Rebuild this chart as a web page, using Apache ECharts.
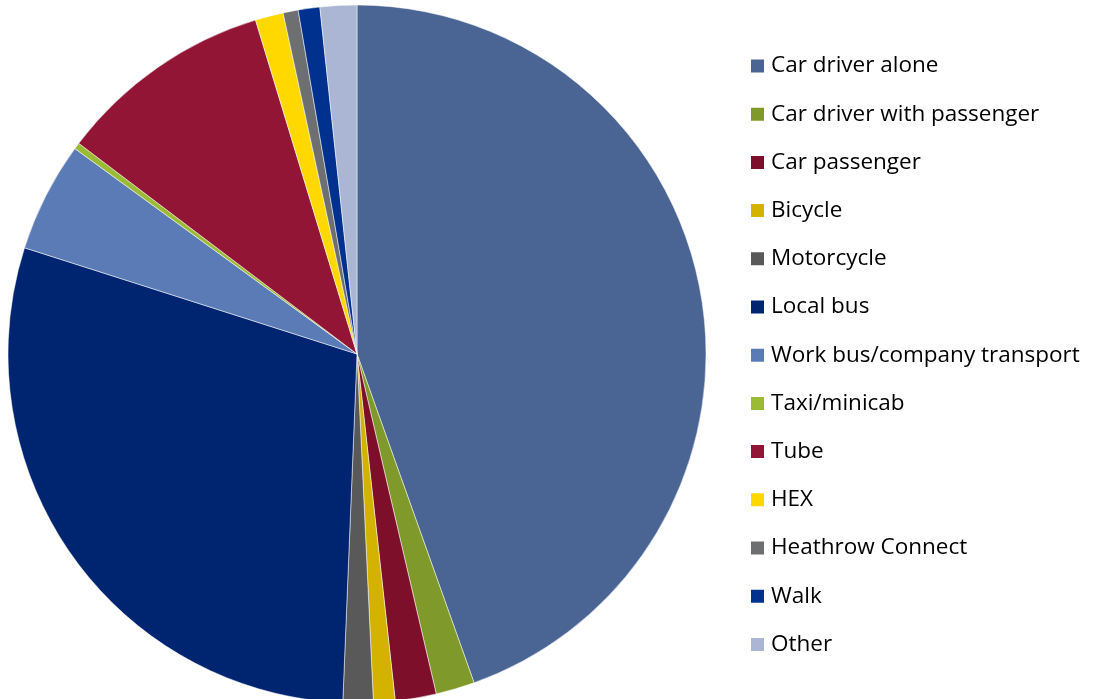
<!DOCTYPE html>
<html>
<head>
<meta charset="utf-8">
<script src="https://cdn.jsdelivr.net/npm/echarts@6/dist/echarts.min.js"></script>
<style>
html,body{margin:0;padding:0;background:#fff;}
#chart{width:1100px;height:699px;}
</style>
</head>
<body>
<div id="chart"></div>
<script>
var categories = ["Car driver alone","Car driver with passenger","Car passenger","Bicycle","Motorcycle","Local bus","Work bus/company transport","Taxi/minicab","Tube","HEX","Heathrow Connect","Walk","Other"];
var shares = [44.6, 1.8, 1.9, 1.0, 1.4, 29.3, 5.1, 0.3, 10.0, 1.3, 0.7, 1.0, 1.7];
var colors = ["#4A6594","#7F9A2A","#7D0F2B","#D4B300","#595959","#002570","#5B7BB6","#9CBB34","#931535","#FFD800","#6D6F71","#00318F","#AAB6D3"];

var chart = echarts.init(document.getElementById('chart'));
chart.setOption({
  animation: false,
  color: colors,
  legend: {
    orient: 'vertical',
    left: 749,
    top: 54,
    padding: 0,
    itemWidth: 15,
    itemHeight: 15,
    itemGap: 24.2,
    icon: 'rect',
    textStyle: { fontFamily: 'Open Sans', fontSize: 22.5, color: '#000', lineHeight: 24, height: 24, padding: [0,0,0,1] },
    data: categories
  },
  series: [{
    type: 'pie',
    center: [357, 354],
    radius: [0, 349],
    startAngle: 90,
    clockwise: true,
    label: { show: false },
    labelLine: { show: false },
    itemStyle: { borderColor: '#fff', borderWidth: 0.5 },
    emphasis: { disabled: true },
    data: categories.map(function(c, i){ return { name: c, value: shares[i] }; })
  }]
});
</script>
</body>
</html>
